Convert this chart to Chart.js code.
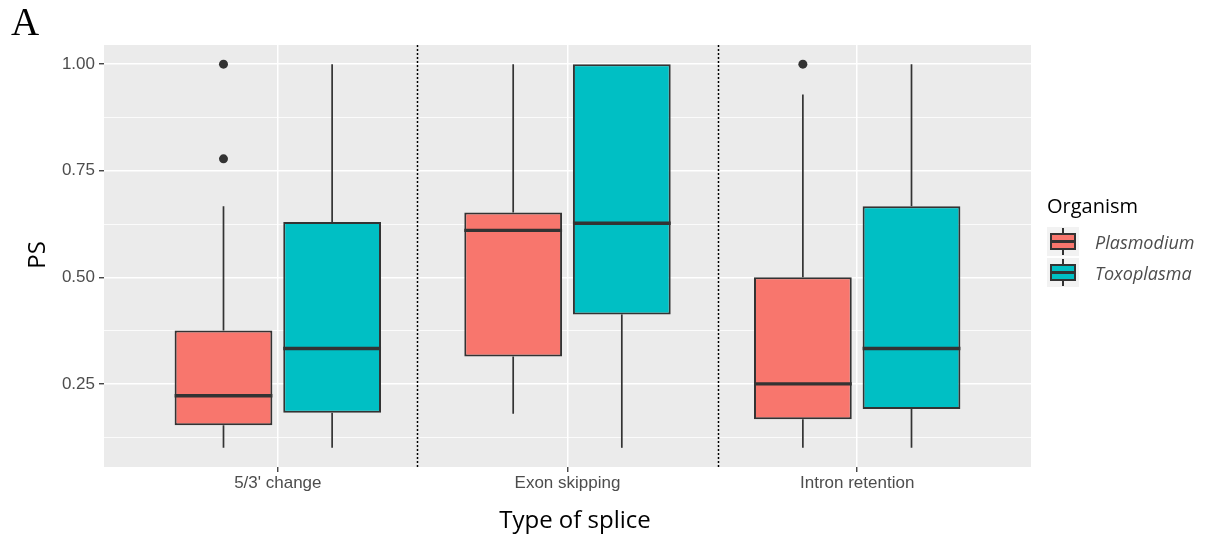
<!DOCTYPE html>
<html lang="en">
<head>
<meta charset="UTF-8">
<title>PS by type of splice</title>
<script src="https://cdn.jsdelivr.net/npm/chart.js"></script>
<style>
  body { margin: 0; background: #fff; }
  #wrap { position: relative; width: 1211px; height: 538px; }
  #panelLetter { position: absolute; left: 11px; top: 2px; font-family: "Liberation Serif", serif; font-size: 39px; line-height: 1; color: #000; }
  #yTitle { position: absolute; left: 35px; top: 255px; transform: translate(-50%, -50%) rotate(-90deg); font-family: "Open Sans", sans-serif; font-size: 24px; color: #000; white-space: nowrap; }
  #xTitle { position: absolute; left: 575px; top: 502px; transform: translateX(-50%); font-family: "Open Sans", sans-serif; font-size: 24px; color: #000; white-space: nowrap; }
  #legend { position: absolute; left: 1047px; top: 192px; font-family: "Open Sans", sans-serif; }
  #legend .ltitle { font-size: 20px; color: #000; margin-bottom: 7px; }
  .litem { display: flex; align-items: center; height: 31px; }
  .key { position: relative; width: 32px; height: 29px; background: #F2F2F2; margin-right: 16px; }
  .key .wh { position: absolute; left: 15px; top: 1px; width: 2px; height: 27px; background: #333; }
  .key .bx { position: absolute; left: 3px; top: 6px; width: 26px; height: 17px; border: 2px solid #333; box-sizing: border-box; }
  .key .md { position: absolute; left: 3px; top: 13px; width: 26px; height: 3px; background: #333; }
  .litem span { font-size: 18px; font-style: italic; color: #4d4d4d; }
</style>
</head>
<body>
<div id="wrap">
  <canvas id="psChart" width="1211" height="538"></canvas>
  <div id="panelLetter">A</div>
  <div id="yTitle">PS</div>
  <div id="xTitle">Type of splice</div>
  <div id="legend"></div>
</div>

<script>
// categories and box statistics
const categories = ["5/3' change", "Exon skipping", "Intron retention"];
const catPos = [1, 2, 3];
const organisms = ["Plasmodium", "Toxoplasma"];
const organismColors = ["#F8766D", "#00BFC4"];

const plasmoLow = [0.1, 0.18, 0.1];
const plasmoQ1 = [0.153, 0.314, 0.167];
const plasmoMedian = [0.222, 0.61, 0.25];
const plasmoQ3 = [0.375, 0.652, 0.5];
const plasmoHigh = [0.667, 1.0, 0.929];
const plasmoOutliers = [[0.778, 1.0], [], [1.0]];

const toxoLow = [0.1, 0.1, 0.1];
const toxoQ1 = [0.182, 0.413, 0.191];
const toxoMedian = [0.333, 0.627, 0.333];
const toxoQ3 = [0.63, 1.0, 0.667];
const toxoHigh = [1.0, 1.0, 1.0];
const toxoOutliers = [[], [], []];

const yMajor = [0.25, 0.5, 0.75, 1.0];
const yMinor = [0.125, 0.375, 0.625, 0.875];
const separators = [1.48, 2.52];

const stats = [
    { low: plasmoLow, median: plasmoMedian, high: plasmoHigh, out: plasmoOutliers, q1: plasmoQ1, q3: plasmoQ3 },
    { low: toxoLow, median: toxoMedian, high: toxoHigh, out: toxoOutliers, q1: toxoQ1, q3: toxoQ3 }
];

const INK = "#333333";

// legend
let legend = document.getElementById("legend");
legend.innerHTML = '<div class="ltitle">Organism</div>';
organisms.forEach((name, i) => {
    let row = document.createElement("div");
    row.className = "litem";
    row.innerHTML = '<div class="key"><div class="wh"></div><div class="bx" style="background:' + organismColors[i] + '"></div><div class="md"></div></div><span>' + name + '</span>';
    legend.appendChild(row);
});

const boxPlugin = {
    id: "boxExtras",
    beforeDraw(chart) {
        let { ctx, chartArea: a } = chart;
        ctx.save();
        ctx.fillStyle = "#EBEBEB";
        ctx.fillRect(a.left, a.top, a.right - a.left, a.bottom - a.top);
        ctx.restore();
    },
    beforeDatasetsDraw(chart) {
        let { ctx, chartArea: a, scales } = chart;
        ctx.save();
        // dotted separators between groups
        ctx.strokeStyle = "#000";
        ctx.lineWidth = 1.5;
        ctx.setLineDash([2, 2]);
        separators.forEach(s => {
            let x = Math.round(scales.x.getPixelForValue(s)) + 0.5;
            ctx.beginPath();
            ctx.moveTo(x, a.top);
            ctx.lineTo(x, a.bottom);
            ctx.stroke();
        });
        ctx.setLineDash([]);
        // whiskers
        ctx.strokeStyle = INK;
        ctx.lineWidth = 1.7;
        stats.forEach((st, di) => {
            chart.getDatasetMeta(di).data.forEach((bar, i) => {
                ctx.beginPath();
                ctx.moveTo(bar.x, scales.y.getPixelForValue(st.low[i]));
                ctx.lineTo(bar.x, scales.y.getPixelForValue(st.q1[i]));
                ctx.moveTo(bar.x, scales.y.getPixelForValue(st.q3[i]));
                ctx.lineTo(bar.x, scales.y.getPixelForValue(st.high[i]));
                ctx.stroke();
            });
        });
        ctx.restore();
    },
    afterDatasetsDraw(chart) {
        let { ctx, scales } = chart;
        ctx.save();
        stats.forEach((st, di) => {
            chart.getDatasetMeta(di).data.forEach((bar, i) => {
                let y = scales.y.getPixelForValue(st.median[i]);
                ctx.strokeStyle = INK;
                ctx.lineWidth = 3.4;
                ctx.beginPath();
                ctx.moveTo(bar.x - bar.width / 2, y);
                ctx.lineTo(bar.x + bar.width / 2, y);
                ctx.stroke();
                ctx.fillStyle = INK;
                st.out[i].forEach(v => {
                    ctx.beginPath();
                    ctx.arc(bar.x, scales.y.getPixelForValue(v), 4.5, 0, Math.PI * 2);
                    ctx.fill();
                });
            });
        });
        ctx.restore();
    }
};

const isMajor = v => yMajor.some(m => Math.abs(m - v) < 1e-6);

new Chart(document.getElementById("psChart"), {
    type: "bar",
    data: {
        datasets: organisms.map((name, di) => ({
            label: name,
            data: catPos.map((x, i) => ({ x: x, y: [stats[di].q1[i], stats[di].q3[i]] })),
            backgroundColor: organismColors[di],
            borderColor: INK,
            borderWidth: 2,
            borderSkipped: false,
            categoryPercentage: 0.75,
            barPercentage: 0.9
        }))
    },
    options: {
        responsive: false,
        animation: false,
        layout: { padding: { left: 0, top: 45, right: 180, bottom: 0 } },
        plugins: { legend: { display: false }, tooltip: { enabled: false } },
        scales: {
            x: {
                type: "linear",
                min: 0.4,
                max: 3.6,
                offset: false,
                afterBuildTicks: scale => { scale.ticks = catPos.map(v => ({ value: v })); },
                afterFit: scale => { scale.height = 71; },
                ticks: {
                    callback: v => categories[catPos.indexOf(v)] || "",
                    color: "#4d4d4d",
                    font: { family: "Liberation Sans", size: 17 },
                    padding: 1,
                    maxRotation: 0
                },
                grid: { offset: false, color: "#ffffff", lineWidth: 1.5, tickColor: INK, tickLength: 5, tickWidth: 1.3 },
                border: { display: false }
            },
            y: {
                min: 0.055,
                max: 1.045,
                afterBuildTicks: scale => {
                    scale.ticks = yMinor.concat(yMajor).sort((a, b) => a - b).map(v => ({ value: v }));
                },
                afterFit: scale => { scale.width = 104; },
                ticks: {
                    callback: v => isMajor(v) ? v.toFixed(2) : "",
                    color: "#4d4d4d",
                    font: { family: "Liberation Sans", size: 17 },
                    padding: 4
                },
                grid: {
                    color: "#ffffff",
                    lineWidth: c => isMajor(c.tick.value) ? 1.5 : 0.8,
                    tickColor: c => isMajor(c.tick.value) ? INK : "rgba(0,0,0,0)",
                    tickLength: 5,
                    tickWidth: 1.3
                },
                border: { display: false }
            }
        }
    },
    plugins: [boxPlugin]
});
</script>
</body>
</html>
